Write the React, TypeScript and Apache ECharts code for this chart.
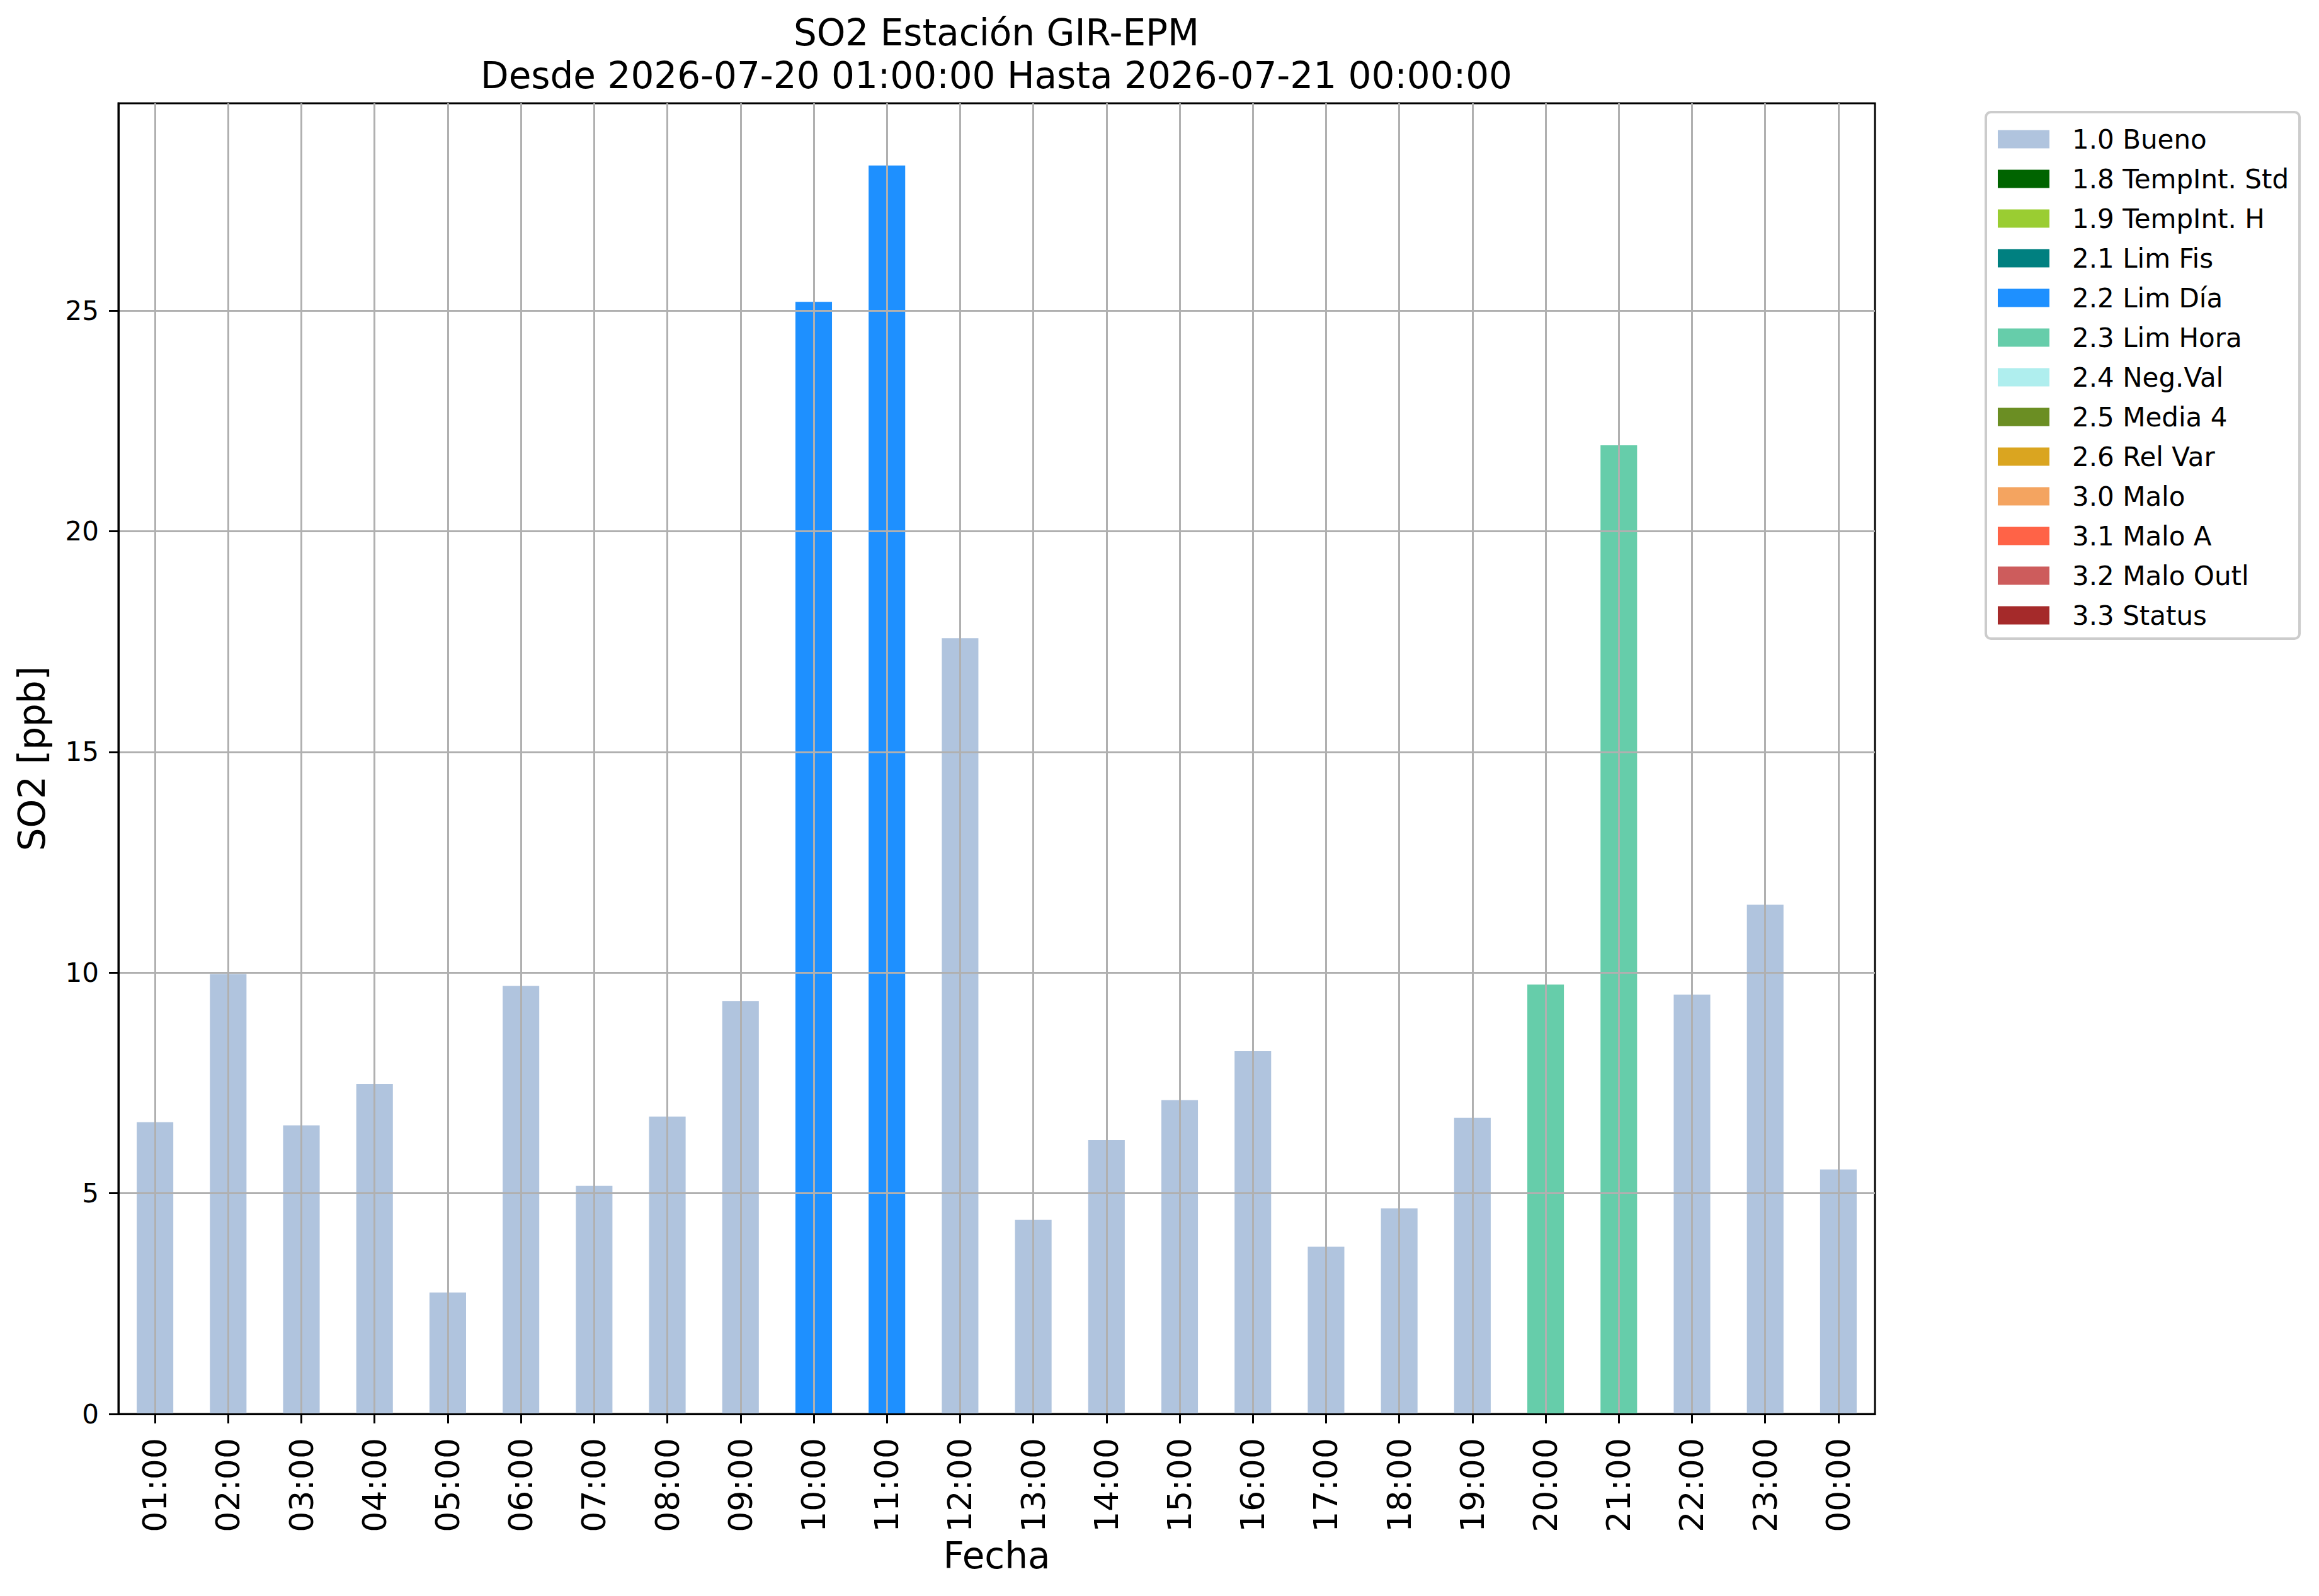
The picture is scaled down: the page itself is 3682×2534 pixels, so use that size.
import React, { useEffect, useRef } from "react";
import * as echarts from "echarts";

const hours = [
  "01:00", "02:00", "03:00", "04:00", "05:00", "06:00", "07:00", "08:00",
  "09:00", "10:00", "11:00", "12:00", "13:00", "14:00", "15:00", "16:00",
  "17:00", "18:00", "19:00", "20:00", "21:00", "22:00", "23:00", "00:00",
];

const so2Values = [
  6.61, 9.97, 6.54, 7.48, 2.75, 9.70, 5.17, 6.74,
  9.36, 25.2, 28.29, 17.58, 4.40, 6.21, 7.11, 8.22,
  3.79, 4.66, 6.71, 9.73, 21.95, 9.50, 11.54, 5.54,
];

const hourFlags = [
  "1.0 Bueno", "1.0 Bueno", "1.0 Bueno", "1.0 Bueno", "1.0 Bueno", "1.0 Bueno", "1.0 Bueno", "1.0 Bueno",
  "1.0 Bueno", "2.2 Lim Día", "2.2 Lim Día", "1.0 Bueno", "1.0 Bueno", "1.0 Bueno", "1.0 Bueno", "1.0 Bueno",
  "1.0 Bueno", "1.0 Bueno", "1.0 Bueno", "2.3 Lim Hora", "2.3 Lim Hora", "1.0 Bueno", "1.0 Bueno", "1.0 Bueno",
];

const flagNames = [
  "1.0 Bueno", "1.8 TempInt. Std", "1.9 TempInt. H", "2.1 Lim Fis", "2.2 Lim Día",
  "2.3 Lim Hora", "2.4 Neg.Val", "2.5 Media 4", "2.6 Rel Var", "3.0 Malo",
  "3.1 Malo A", "3.2 Malo Outl", "3.3 Status",
];

const flagColors = [
  "#B0C4DE", "#006400", "#9ACD32", "#008080", "#1E90FF",
  "#66CDAA", "#AFEEEE", "#6B8E23", "#DAA520", "#F4A460",
  "#FF6347", "#CD5C5C", "#A52A2A",
];

const yTicks = [0, 5, 10, 15, 20, 25];
const yMax = 29.7;

const FONT = "DejaVu Sans";

export default function App() {
  const ref = useRef<HTMLDivElement>(null);

  useEffect(() => {
    if (!ref.current) return;
    const chart = echarts.init(ref.current, undefined, { renderer: "svg" });

    const series = flagNames.map((name, k) => ({
      type: "bar" as const,
      name,
      stack: "total",
      barWidth: "50%",
      itemStyle: { color: flagColors[k] },
      z: 2,
      data: so2Values.map((v, i) => (hourFlags[i] === name ? v : null)),
    }));

    chart.setOption({
      animation: false,
      backgroundColor: "#ffffff",
      textStyle: { fontFamily: FONT },
      title: {
        text: "SO2 Estación GIR-EPM\nDesde 2026-07-20 01:00:00 Hasta 2026-07-21 00:00:00",
        left: 1582,
        top: 18,
        textAlign: "center",
        padding: 0,
        textStyle: {
          fontSize: 58,
          lineHeight: 68,
          fontWeight: "normal",
          color: "#000",
          fontFamily: FONT,
        },
      },
      legend: {
        orient: "vertical",
        left: 3153,
        top: 178,
        padding: [22, 17, 16, 19],
        itemWidth: 82,
        itemHeight: 29,
        itemGap: 21,
        icon: "rect",
        selectedMode: false,
        backgroundColor: "#ffffff",
        borderColor: "#cccccc",
        borderWidth: 4,
        borderRadius: 8,
        data: flagNames,
        textStyle: {
          fontSize: 42,
          lineHeight: 42,
          color: "#000",
          fontFamily: FONT,
          padding: [0, 0, 0, 31],
        },
      },
      grid: {
        left: 188,
        right: 705,
        top: 164,
        bottom: 289,
        show: true,
        borderColor: "#000",
        borderWidth: 3,
        backgroundColor: "transparent",
      },
      xAxis: {
        type: "category",
        data: hours,
        z: 3,
        name: "Fecha",
        nameLocation: "middle",
        nameGap: 192,
        nameTextStyle: { fontSize: 58, color: "#000", fontFamily: FONT },
        axisLine: { show: true, lineStyle: { color: "#000", width: 3 } },
        axisTick: {
          show: true,
          alignWithLabel: true,
          length: 15,
          lineStyle: { color: "#000", width: 3 },
        },
        axisLabel: {
          rotate: 90,
          fontSize: 52,
          color: "#000",
          margin: 38,
          fontFamily: FONT,
          interval: 0,
        },
        splitLine: {
          show: true,
          alignWithLabel: true,
          lineStyle: { color: "#b0b0b0", width: 3 },
        },
      },
      yAxis: {
        type: "value",
        min: 0,
        max: yMax,
        z: 3,
        name: "SO2 [ppb]",
        nameLocation: "middle",
        nameGap: 108,
        nameRotate: 90,
        nameTextStyle: { fontSize: 58, color: "#000", fontFamily: FONT },
        axisLine: { show: true, lineStyle: { color: "#000", width: 3 } },
        axisTick: {
          show: true,
          length: 15,
          customValues: yTicks,
          lineStyle: { color: "#000", width: 3 },
        },
        axisLabel: {
          fontSize: 42,
          color: "#000",
          margin: 31,
          fontFamily: FONT,
          customValues: yTicks,
        },
        splitLine: {
          show: true,
          customValues: yTicks,
          lineStyle: { color: "#b0b0b0", width: 3 },
        },
      },
      series,
    });

    return () => {
      chart.dispose();
    };
  }, []);

  return (
    <div
      ref={ref}
      style={{ position: "absolute", left: 0, top: 0, width: 3682, height: 2534 }}
    />
  );
}
